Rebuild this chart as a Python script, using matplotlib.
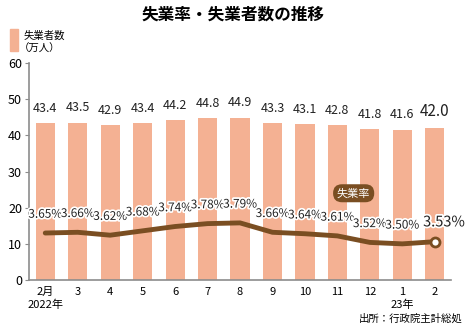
import matplotlib
matplotlib.use("Agg")
import matplotlib.pyplot as plt
import matplotlib.patheffects as pe
from matplotlib.patches import Rectangle
from matplotlib import font_manager

plt.rcParams['font.family'] = ['Noto Sans CJK JP', 'DejaVu Sans']

# condensed face for the numbers, if available
names = {f.name for f in font_manager.fontManager.ttflist}
num_font = ['Liberation Sans Narrow', 'Noto Sans CJK JP'] if 'Liberation Sans Narrow' in names \
    else ['Noto Sans CJK JP']

# monthly figures, Feb 2022 - Feb 2023
months = ['2月\n2022年', '3', '4', '5', '6', '7', '8', '9', '10', '11', '12', '1\n23年', '2']
unemployed = [43.4, 43.5, 42.9, 43.4, 44.2, 44.8, 44.9, 43.3, 43.1, 42.8, 41.8, 41.6, 42.0]
rate = [3.65, 3.66, 3.62, 3.68, 3.74, 3.78, 3.79, 3.66, 3.64, 3.61, 3.52, 3.50, 3.53]
yticks = [0, 10, 20, 30, 40, 50, 60]

bar_color = '#F4B193'
line_color = '#7A4E22'
axis_color = '#8C8C8C'

fig = plt.figure(figsize=(4.65, 3.27), dpi=100)
ax = fig.add_axes([0.0624, 0.1437, 0.9076, 0.6633])
x = list(range(len(months)))

ax.bar(x, unemployed, width=0.59, color=bar_color, zorder=1)
ax.set_xlim(-0.5, 12.5)
ax.set_ylim(0, 60)
ax.set_yticks(yticks)
ax.set_xticks(x)
ax.set_xticklabels(months, fontsize=8, linespacing=1.3)
ax.set_yticklabels([str(t) for t in yticks], family=num_font, fontsize=9)
ax.tick_params(axis='y', length=3, color=axis_color, pad=2)
ax.tick_params(axis='x', length=0, pad=5)
for s in ['top', 'right']:
    ax.spines[s].set_visible(False)
ax.spines['left'].set_color(axis_color)
ax.spines['bottom'].set_color(axis_color)
ax.spines['left'].set_linewidth(1.2)
ax.spines['bottom'].set_linewidth(1.2)

# bar values
for i, v in enumerate(unemployed):
    last = i == len(unemployed) - 1
    ax.text(i, v + 2.3, f'{v:.1f}', ha='center', va='bottom', family=num_font,
            fontsize=11 if last else 9, color='#222222')

# unemployment rate on a hidden secondary scale
ax2 = ax.twinx()
ax2.set_ylim(3.0, 6.0)
ax2.axis('off')
ax2.plot(x, rate, color=line_color, lw=3.5, solid_joinstyle='round',
         solid_capstyle='round', zorder=3)
ax2.plot(x[-1], rate[-1], 'o', ms=6.5, mfc='white', mec=line_color, mew=2, zorder=4)

outline = [pe.withStroke(linewidth=2.5, foreground='white')]
for i, r in enumerate(rate):
    last = i == len(rate) - 1
    ax2.text(i + (0.28 if last else 0), r + 0.17, f'{r:.2f}%', ha='center', va='bottom',
             family=num_font, fontsize=10.5 if last else 8.5, color='#222222',
             path_effects=outline, zorder=5)

ax2.text(9.5, 4.2, '失業率', ha='center', va='center', fontsize=8, color='white',
         bbox=dict(boxstyle='round,pad=0.35,rounding_size=0.8', fc=line_color, ec='none'))

# title, legend and source
fig.text(0.5, 0.955, '失業率・失業者数の推移', ha='center', va='center',
         fontsize=12, fontweight='bold')
fig.patches.append(Rectangle((0.022, 0.845), 0.016, 0.065, transform=fig.transFigure,
                             color=bar_color))
fig.text(0.05, 0.89, '失業者数', fontsize=7.5, va='center')
fig.text(0.04, 0.85, '（万人）', fontsize=7.5, va='center')
fig.text(0.995, 0.025, '出所：行政院主計総処', ha='right', va='center', fontsize=7.5)

fig.savefig('out.png', dpi=100)
